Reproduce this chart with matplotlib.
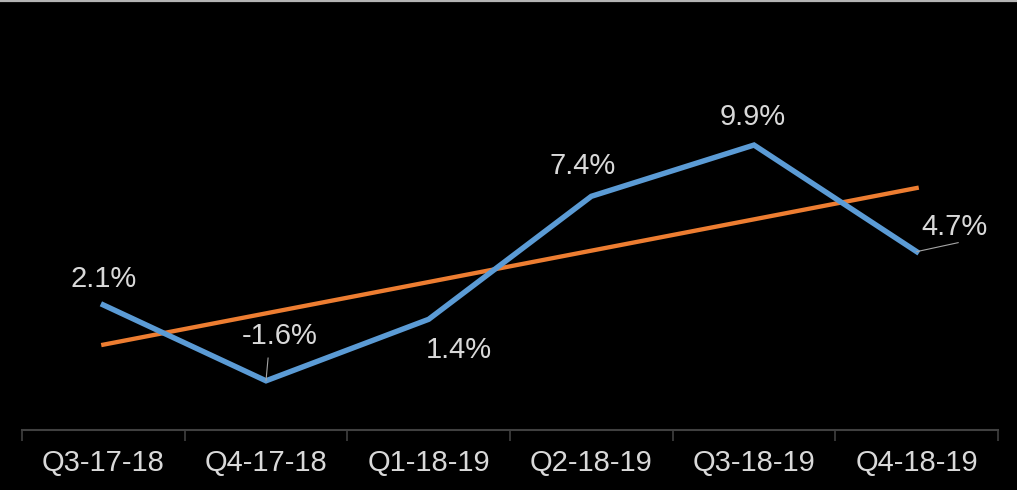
import numpy as np
import matplotlib
matplotlib.use('Agg')
import matplotlib.pyplot as plt
from matplotlib.lines import Line2D

quarters = ['Q3-17-18', 'Q4-17-18', 'Q1-18-19', 'Q2-18-19', 'Q3-18-19', 'Q4-18-19']
growth = [2.1, -1.6, 1.4, 7.4, 9.9, 4.7]
labels = ['2.1%', '-1.6%', '1.4%', '7.4%', '9.9%', '4.7%']

plt.rcParams['font.family'] = ['Liberation Sans', 'DejaVu Sans']

W, H = 1017, 490
fig = plt.figure(figsize=(W / 100, H / 100), dpi=100, facecolor='black')
# axes box in pixels: x 22..998, y 102..430
ax = fig.add_axes([22 / W, (H - 430) / H, 976 / W, 328 / H])
ax.set_facecolor('black')

x = np.arange(len(quarters))
ax.plot(x, growth, color='#5B9BD5', lw=3.9, solid_joinstyle='miter', zorder=3)

# linear trend line
k, b = np.polyfit(x, growth, 1)
ax.plot(x, k * x + b, color='#ED7D31', lw=3.1, zorder=2)

ax.set_xlim(-0.5, 5.5)
ax.set_ylim(-4, 12)

txt = '#d9d9d9'
# label offsets in points (dx, dy) from the data point
offs = [(0, 19), (10, 32), (22, -22), (-6, 22), (-1, 20.5), (27, 18)]
for i, (v, s) in enumerate(zip(growth, labels)):
    ax.annotate(s, (x[i], v), xytext=offs[i], textcoords='offset points',
                ha='center', va='center', color=txt, fontsize=21, zorder=4)

# leader lines
ax.annotate('', (x[1], growth[1]), xytext=(1.5, 16.5), textcoords='offset points',
            arrowprops=dict(arrowstyle='-', color='#a6a6a6', lw=0.8, shrinkA=0, shrinkB=0))
ax.annotate('', (x[5], growth[5]), xytext=(30, 6.5), textcoords='offset points',
            arrowprops=dict(arrowstyle='-', color='#a6a6a6', lw=0.8, shrinkA=0, shrinkB=0))

for sp in ['top', 'right', 'left']:
    ax.spines[sp].set_visible(False)
ax.spines['bottom'].set_color('#404040')
ax.spines['bottom'].set_linewidth(1.5)
ax.set_yticks([])
ax.set_xticks(np.arange(-0.5, 6, 1))
ax.set_xticklabels([])
ax.set_xticks(x, minor=True)
ax.set_xticklabels(quarters, minor=True, color=txt, fontsize=21)
ax.tick_params(axis='x', which='major', length=8, width=1.2, color='#404040', direction='out')
ax.tick_params(axis='x', which='minor', length=0, pad=14)

# thin light strip along the top edge
fig.add_artist(Line2D([0, 1], [1 - 1 / H, 1 - 1 / H], transform=fig.transFigure,
                      color='#b4b4b4', lw=1.6))

fig.savefig('out.png', dpi=100, facecolor='black')
